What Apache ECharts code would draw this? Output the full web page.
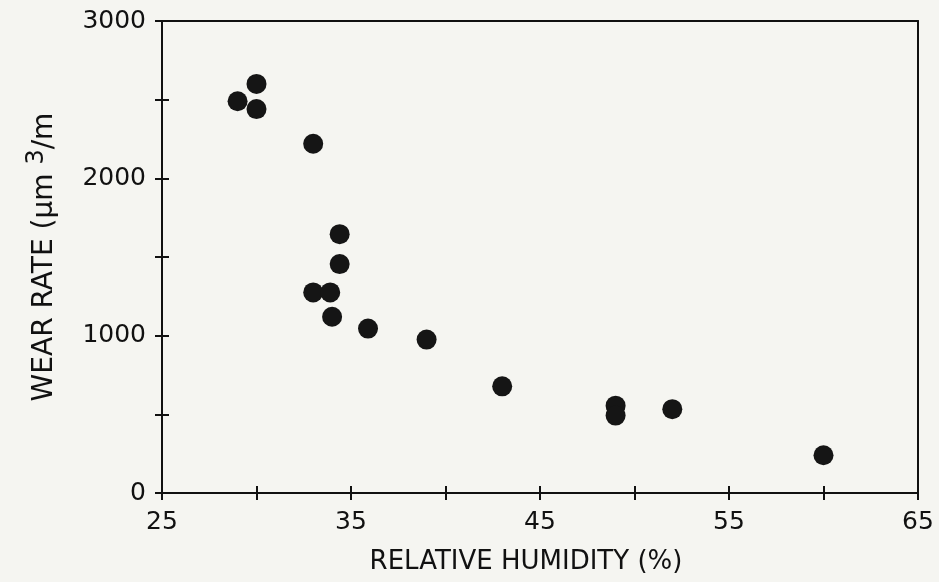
<!DOCTYPE html>
<html>
<head>
<meta charset="utf-8">
<script src="https://cdn.jsdelivr.net/npm/echarts@6/dist/echarts.min.js"></script>
<style>
html,body{margin:0;padding:0;background:#f5f5f1;}
#c{width:939px;height:582px;}
</style>
</head>
<body>
<div id="c"></div>
<script>
// Data
const humidity = [29.0, 30.0, 30.0, 33.0, 34.4, 34.4, 33.0, 33.9, 34.0, 35.9, 39.0, 43.0, 49.0, 49.0, 52.0, 60.0];
const wearRate = [2490, 2600, 2440, 2220, 1645, 1455, 1275, 1275, 1120, 1045, 975, 678, 555, 492, 533, 240];
const xTickLabels = [25, 35, 45, 55, 65];
const yTickLabels = [0, 1000, 2000, 3000];

const points = humidity.map((h, i) => [h, wearRate[i]]);
const font = 'DejaVu Sans';
const ink = '#111';

const chart = echarts.init(document.getElementById('c'), null, {renderer: 'canvas'});
chart.setOption({
  backgroundColor: '#f5f5f1',
  animation: false,
  grid: {left: 162, right: 21, top: 21, bottom: 89},
  xAxis: [
    {
      type: 'value', min: 25, max: 65, interval: 5, position: 'bottom',
      name: 'RELATIVE HUMIDITY (%)', nameLocation: 'middle', nameGap: 56,
      nameTextStyle: {fontFamily: font, fontSize: 26, color: ink, padding: [0, 28, 0, 0]},
      axisLine: {show: true, onZero: false, lineStyle: {color: ink, width: 2}},
      axisTick: {show: true, length: 7, lineStyle: {color: ink, width: 2}},
      axisLabel: {
        margin: 17, fontFamily: font, fontSize: 25, color: ink,
        formatter: v => xTickLabels.includes(v) ? String(v) : ''
      },
      splitLine: {show: false}
    },
    {
      type: 'value', min: 25, max: 65, interval: 5, position: 'bottom', offset: 0,
      axisLine: {show: false, onZero: false},
      axisTick: {show: true, inside: true, length: 7, lineStyle: {color: ink, width: 2}},
      axisLabel: {show: false}, splitLine: {show: false}
    },
    {
      type: 'value', min: 25, max: 65, position: 'top',
      axisLine: {show: true, onZero: false, lineStyle: {color: ink, width: 2}},
      axisTick: {show: false}, axisLabel: {show: false}, splitLine: {show: false}
    }
  ],
  yAxis: [
    {
      type: 'value', min: 0, max: 3000, interval: 500, position: 'left',
      name: '{a|WEAR RATE (μm }{s|3}{a|/m}', nameLocation: 'middle', nameGap: 103, nameRotate: 90,
      nameTextStyle: {
        fontFamily: font, fontSize: 28, color: ink,
        rich: {
          a: {fontFamily: font, fontSize: 28, color: ink, lineHeight: 34, verticalAlign: 'bottom'},
          s: {fontFamily: font, fontSize: 24, color: ink, lineHeight: 34, verticalAlign: 'top'}
        }
      },
      axisLine: {show: true, onZero: false, lineStyle: {color: ink, width: 2}},
      axisTick: {show: true, length: 7, lineStyle: {color: ink, width: 2}},
      axisLabel: {
        margin: 16, fontFamily: font, fontSize: 25, color: ink,
        formatter: v => yTickLabels.includes(v) ? String(v) : ''
      },
      splitLine: {show: false}
    },
    {
      type: 'value', min: 0, max: 3000, interval: 500, position: 'left', offset: 0,
      axisLine: {show: false, onZero: false},
      axisTick: {show: true, inside: true, length: 7, lineStyle: {color: ink, width: 2}},
      axisLabel: {show: false}, splitLine: {show: false}
    },
    {
      type: 'value', min: 0, max: 3000, position: 'right',
      axisLine: {show: true, onZero: false, lineStyle: {color: ink, width: 2}},
      axisTick: {show: false}, axisLabel: {show: false}, splitLine: {show: false}
    }
  ],
  series: [{
    type: 'scatter',
    xAxisIndex: 0, yAxisIndex: 0,
    data: points,
    symbol: 'circle',
    symbolSize: 20,
    itemStyle: {color: '#151515', opacity: 1}
  }]
});
</script>
</body>
</html>
